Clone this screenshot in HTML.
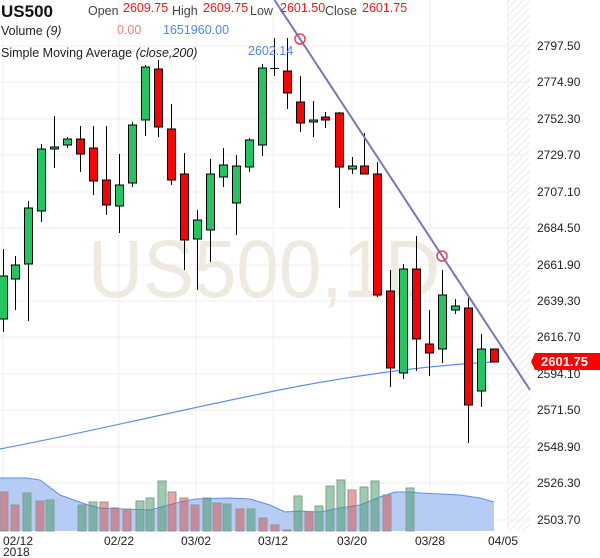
<!DOCTYPE html>
<html><head><meta charset="utf-8"><style>
body{margin:0;background:#fff;}
svg{display:block;font-family:"Liberation Sans",sans-serif;}
</style></head><body>
<svg width="600" height="558" viewBox="0 0 600 558" xmlns="http://www.w3.org/2000/svg">
<defs>
<pattern id="h" width="5" height="5" patternUnits="userSpaceOnUse" patternTransform="rotate(45)">
<line x1="0" y1="0" x2="0" y2="5" stroke="#e4e4e4" stroke-width="1.5"/></pattern>
</defs>
<rect x="507" y="0" width="23" height="531" fill="url(#h)"/>
<g stroke="#efefef" stroke-width="1">
<line x1="0" y1="46" x2="530" y2="46"/><line x1="0" y1="82" x2="530" y2="82"/><line x1="0" y1="119" x2="530" y2="119"/><line x1="0" y1="155" x2="530" y2="155"/><line x1="0" y1="192" x2="530" y2="192"/><line x1="0" y1="228" x2="530" y2="228"/><line x1="0" y1="265" x2="530" y2="265"/><line x1="0" y1="301" x2="530" y2="301"/><line x1="0" y1="337" x2="530" y2="337"/><line x1="0" y1="374" x2="530" y2="374"/><line x1="0" y1="410" x2="530" y2="410"/><line x1="0" y1="447" x2="530" y2="447"/><line x1="0" y1="483" x2="530" y2="483"/><line x1="0" y1="520" x2="530" y2="520"/>
<line x1="3" y1="0" x2="3" y2="531"/><line x1="119" y1="0" x2="119" y2="531"/><line x1="196" y1="0" x2="196" y2="531"/><line x1="273" y1="0" x2="273" y2="531"/><line x1="352" y1="0" x2="352" y2="531"/><line x1="430" y1="0" x2="430" y2="531"/><line x1="508" y1="0" x2="508" y2="531"/>
</g>
<text x="88" y="297" font-size="82" fill="#eeeae0" textLength="352" lengthAdjust="spacingAndGlyphs">US500,1D</text>

<path d="M0,531 L0,478 L27,478 L40,480 L60,495 L85,504 L100,508 L150,510 L180,502 L195,499 L230,498 L250,499 L270,505 L285,512 L300,511 L320,512 L340,508 L360,505 L380,497 L395,492 L410,492 L420,493 L440,494 L460,495 L480,498 L494,502 L494,531 Z" fill="#a9c3f2" fill-opacity="0.85"/>
<path d="M0,478 L27,478 L40,480 L60,495 L85,504 L100,508 L150,510 L180,502 L195,499 L230,498 L250,499 L270,505 L285,512 L300,511 L320,512 L340,508 L360,505 L380,497 L395,492 L410,492 L420,493 L440,494 L460,495 L480,498 L494,502" fill="none" stroke="#5b8fe8" stroke-width="1"/>
<g stroke="#8a9a9a" stroke-width="1" fill-opacity="0.5">
<rect x="0" y="492" width="8" height="39" fill="#e0453f"/>
<rect x="11" y="505" width="8" height="26" fill="#e0453f"/>
<rect x="23" y="493" width="8" height="38" fill="#3a9a5f"/>
<rect x="36" y="501" width="8" height="30" fill="#e0453f"/>
<rect x="46" y="500" width="8" height="31" fill="#3a9a5f"/>
<rect x="78" y="505" width="8" height="26" fill="#3a9a5f"/>
<rect x="89" y="502" width="8" height="29" fill="#3a9a5f"/>
<rect x="100" y="502" width="8" height="29" fill="#e0453f"/>
<rect x="111" y="508" width="8" height="23" fill="#e0453f"/>
<rect x="123" y="509" width="8" height="22" fill="#e0453f"/>
<rect x="136" y="501" width="8" height="30" fill="#3a9a5f"/>
<rect x="146" y="498" width="8" height="33" fill="#3a9a5f"/>
<rect x="158" y="481" width="8" height="50" fill="#3a9a5f"/>
<rect x="168" y="492" width="8" height="39" fill="#e0453f"/>
<rect x="180" y="498" width="8" height="33" fill="#e0453f"/>
<rect x="191" y="505" width="8" height="26" fill="#e0453f"/>
<rect x="203" y="498" width="8" height="33" fill="#3a9a5f"/>
<rect x="213" y="503" width="8" height="28" fill="#e0453f"/>
<rect x="223" y="504" width="8" height="27" fill="#3a9a5f"/>
<rect x="236" y="509" width="8" height="22" fill="#e0453f"/>
<rect x="247" y="509" width="8" height="22" fill="#3a9a5f"/>
<rect x="259" y="518" width="8" height="13" fill="#e0453f"/>
<rect x="271" y="525" width="8" height="6" fill="#e0453f"/>
<rect x="283" y="530" width="8" height="1" fill="#e0453f"/>
<rect x="294" y="496" width="8" height="35" fill="#3a9a5f"/>
<rect x="305" y="512" width="8" height="19" fill="#e0453f"/>
<rect x="315" y="506" width="8" height="25" fill="#3a9a5f"/>
<rect x="326" y="486" width="8" height="45" fill="#3a9a5f"/>
<rect x="337" y="480" width="8" height="51" fill="#3a9a5f"/>
<rect x="348" y="490" width="8" height="41" fill="#e0453f"/>
<rect x="360" y="487" width="8" height="44" fill="#3a9a5f"/>
<rect x="371" y="481" width="8" height="50" fill="#3a9a5f"/>
<rect x="383" y="495" width="8" height="36" fill="#e0453f"/>
<rect x="406" y="488" width="8" height="43" fill="#3a9a5f"/>
</g>

<path d="M0,449 C100,430 200,405 300,386 C380,371 450,364 494,362" fill="none" stroke="#5b8fe8" stroke-width="1.2"/>

<g stroke="#000" stroke-width="1">
<line x1="3.5" y1="249" x2="3.5" y2="332"/><line x1="15.5" y1="256" x2="15.5" y2="310"/><line x1="28.5" y1="201" x2="28.5" y2="321"/><line x1="41.5" y1="144" x2="41.5" y2="222"/><line x1="54.5" y1="116" x2="54.5" y2="168"/><line x1="67.5" y1="137" x2="67.5" y2="148"/><line x1="80.5" y1="126" x2="80.5" y2="172"/><line x1="93.5" y1="126" x2="93.5" y2="195"/><line x1="106.5" y1="126" x2="106.5" y2="215"/><line x1="119.5" y1="154" x2="119.5" y2="233"/><line x1="132.5" y1="122" x2="132.5" y2="187"/><line x1="145.5" y1="65" x2="145.5" y2="136"/><line x1="158.5" y1="60" x2="158.5" y2="137"/><line x1="171.5" y1="104" x2="171.5" y2="185"/><line x1="184.5" y1="153" x2="184.5" y2="270"/><line x1="197.5" y1="210" x2="197.5" y2="290"/><line x1="210.5" y1="159" x2="210.5" y2="262"/><line x1="223.5" y1="148" x2="223.5" y2="187"/><line x1="236.5" y1="155" x2="236.5" y2="235"/><line x1="249.5" y1="138" x2="249.5" y2="172"/><line x1="262.5" y1="64" x2="262.5" y2="156"/><line x1="274.5" y1="38" x2="274.5" y2="76"/><line x1="287.5" y1="38" x2="287.5" y2="109"/><line x1="300.5" y1="76" x2="300.5" y2="132"/><line x1="313.5" y1="101" x2="313.5" y2="137"/><line x1="325.5" y1="112" x2="325.5" y2="128"/><line x1="339.5" y1="112" x2="339.5" y2="208"/><line x1="352.5" y1="157" x2="352.5" y2="174"/><line x1="364.5" y1="133" x2="364.5" y2="174"/><line x1="377.5" y1="162" x2="377.5" y2="297"/><line x1="390.5" y1="270" x2="390.5" y2="387"/><line x1="403.5" y1="264" x2="403.5" y2="379"/><line x1="416.5" y1="236" x2="416.5" y2="371"/><line x1="429.5" y1="310" x2="429.5" y2="376"/><line x1="442.5" y1="270" x2="442.5" y2="363"/><line x1="455.5" y1="299" x2="455.5" y2="314"/><line x1="468.5" y1="298" x2="468.5" y2="443"/><line x1="481.5" y1="334" x2="481.5" y2="407"/>
</g>
<g stroke="#000" stroke-width="1">
<rect x="-0.5" y="276" width="8" height="43" fill="#22c55e"/>
<rect x="11.5" y="265" width="8" height="14" fill="#22c55e"/>
<rect x="24.5" y="208" width="8" height="56" fill="#22c55e"/>
<rect x="37.5" y="149" width="8" height="62" fill="#22c55e"/>
<rect x="50.5" y="147" width="8" height="2" fill="#22c55e"/>
<rect x="63.5" y="139" width="8" height="6" fill="#22c55e"/>
<rect x="76.5" y="139" width="8" height="15" fill="#ff0000"/>
<rect x="89.5" y="148" width="8" height="33" fill="#ff0000"/>
<rect x="102.5" y="180" width="8" height="25" fill="#ff0000"/>
<rect x="115.5" y="185" width="8" height="21" fill="#22c55e"/>
<rect x="128.5" y="125" width="8" height="58" fill="#22c55e"/>
<rect x="141.5" y="67" width="8" height="53" fill="#22c55e"/>
<rect x="154.5" y="69" width="8" height="58" fill="#ff0000"/>
<rect x="167.5" y="129" width="8" height="51" fill="#ff0000"/>
<rect x="180.5" y="174" width="8" height="66" fill="#ff0000"/>
<rect x="193.5" y="220" width="8" height="19" fill="#22c55e"/>
<rect x="206.5" y="174" width="8" height="56" fill="#22c55e"/>
<rect x="219.5" y="165" width="8" height="12" fill="#22c55e"/>
<rect x="232.5" y="166" width="8" height="37" fill="#22c55e"/>
<rect x="245.5" y="140" width="8" height="27" fill="#22c55e"/>
<rect x="258.5" y="68" width="8" height="77" fill="#22c55e"/>
<line x1="270" y1="68.5" x2="279" y2="68.5"/>
<rect x="283.5" y="71" width="8" height="22" fill="#ff0000"/>
<rect x="296.5" y="102" width="8" height="21" fill="#ff0000"/>
<rect x="309.5" y="120" width="8" height="2" fill="#22c55e"/>
<rect x="321.5" y="117" width="8" height="3" fill="#ff0000"/>
<rect x="335.5" y="113" width="8" height="54" fill="#ff0000"/>
<rect x="348.5" y="166" width="8" height="3" fill="#22c55e"/>
<rect x="360.5" y="166" width="8" height="8" fill="#ff0000"/>
<rect x="373.5" y="174" width="8" height="121" fill="#ff0000"/>
<rect x="386.5" y="291" width="8" height="77" fill="#ff0000"/>
<rect x="399.5" y="269" width="8" height="104" fill="#22c55e"/>
<rect x="412.5" y="269" width="8" height="70" fill="#ff0000"/>
<rect x="425.5" y="344" width="8" height="9" fill="#ff0000"/>
<rect x="438.5" y="295" width="8" height="54" fill="#22c55e"/>
<rect x="451.5" y="306" width="8" height="4" fill="#22c55e"/>
<rect x="464.5" y="308" width="8" height="97" fill="#ff0000"/>
<rect x="477.5" y="349" width="8" height="42" fill="#22c55e"/>
<rect x="490.5" y="349" width="8" height="13" fill="#ff0000"/>
</g>

<line x1="274.5" y1="0" x2="530" y2="390" stroke="#7478bb" stroke-width="2"/>
<circle cx="300" cy="39" r="5" fill="none" stroke="#f04040" stroke-width="1.5"/>
<circle cx="442" cy="256" r="5" fill="none" stroke="#f04040" stroke-width="1.5"/>

<g font-size="12" fill="#222">
<text x="537" y="50">2797.50</text><text x="537" y="86">2774.90</text><text x="537" y="123">2752.30</text><text x="537" y="159">2729.70</text><text x="537" y="196">2707.10</text><text x="537" y="232">2684.50</text><text x="537" y="269">2661.90</text><text x="537" y="305">2639.30</text><text x="537" y="341">2616.70</text><text x="537" y="378">2594.10</text><text x="537" y="414">2571.50</text><text x="537" y="451">2548.90</text><text x="537" y="487">2526.30</text><text x="537" y="524">2503.70</text>
</g>
<path d="M535,353 L600,353 L600,370 L535,370 L531,361.5 Z" fill="#ff0000"/>
<text x="541" y="366" font-size="13" font-weight="bold" fill="#fff">2601.75</text>

<g font-size="12" fill="#222">
<text x="3" y="545">02/12</text><text x="3" y="556">2018</text>
<text x="104" y="545">02/22</text><text x="181" y="545">03/02</text><text x="258" y="545">03/12</text><text x="337" y="545">03/20</text><text x="415" y="545">03/28</text><text x="488" y="545">04/05</text>
</g>

<text x="1" y="17" font-size="17" font-weight="bold" fill="#111">US500</text>
<g font-size="12.5">
<text x="88" y="15" fill="#444">Open</text><text x="123" y="12" fill="#f01818">2609.75</text>
<text x="172" y="15" fill="#444">High</text><text x="203" y="12" fill="#f01818">2609.75</text>
<text x="250" y="15" fill="#444">Low</text><text x="280" y="12" fill="#f01818">2601.50</text>
<text x="325" y="15" fill="#444">Close</text><text x="362" y="12" fill="#f01818">2601.75</text>
<text x="1" y="35" fill="#222">Volume <tspan font-style="italic">(9)</tspan></text>
<text x="117" y="34" fill="#f08080">0.00</text>
<text x="163" y="34" fill="#4a8ae8">1651960.00</text>
<text x="1" y="57" fill="#222">Simple Moving Average <tspan font-style="italic">(close,200)</tspan></text>
<text x="248" y="55" fill="#4a8ae8">2602.14</text>
</g>
</svg>
</body></html>
